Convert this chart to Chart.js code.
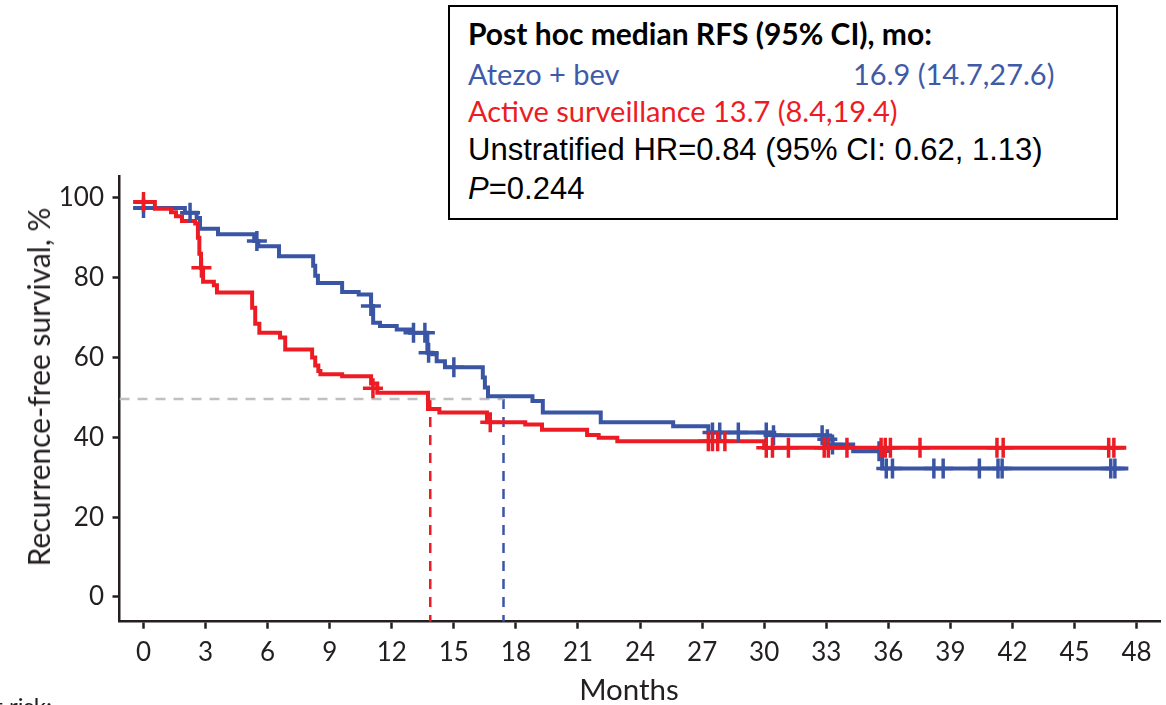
<!DOCTYPE html>
<html>
<head>
<meta charset="utf-8">
<script src="https://cdn.jsdelivr.net/npm/chart.js@4.4.1/dist/chart.umd.min.js"></script>
<style>
  html, body { margin: 0; padding: 0; background: #fff; }
  #wrap { position: relative; width: 1166px; height: 705px; overflow: hidden; }
  #chart { position: absolute; left: 0; top: 0; }
  .box {
    position: absolute; left: 448px; top: 5px; width: 670px; height: 215px;
    box-sizing: border-box; border: 2px solid #000; background: #fff;
  }
  .ln { position: absolute; white-space: nowrap; line-height: 1; }
  .cal { font-family: Lato, "Open Sans", sans-serif; font-size: 29px; }
  .ari { font-family: "Liberation Sans", Arial, sans-serif; font-size: 31px; color: #000; }
  .blue { color: #3f5aa8; }
  .red { color: #ed1c24; }
  .xtitle {
    position: absolute; left: 629px; top: 674px; transform: translateX(-50%);
    font-family: Lato, sans-serif; font-size: 29.5px; line-height: 1; color: #231f20;
  }
  .ytitle {
    position: absolute; left: 38px; top: 387px; white-space: nowrap;
    transform: translate(-50%, -50%) rotate(-90deg);
    font-family: Lato, sans-serif; font-size: 30px; line-height: 1; color: #231f20;
  }
  .risk {
    position: absolute; right: 1114px; top: 694px; white-space: nowrap;
    font-family: Lato, sans-serif; font-size: 24px; line-height: 1; color: #231f20;
  }
</style>
</head>
<body>
<div id="wrap">
  <canvas id="chart" width="1166" height="705"></canvas>
  <div class="box">
    <div class="ln cal" style="left:18px; top:11px; font-size:30px; font-weight:bold; color:#000;">Post hoc median RFS (95% CI), mo:</div>
    <div class="ln cal blue" style="left:18px; top:52px;">Atezo + bev</div>
    <div class="ln cal blue" style="left:403px; top:52px;">16.9 (14.7,27.6)</div>
    <div class="ln cal red" style="left:18px; top:89px;">Active surveillance</div>
    <div class="ln cal red" style="left:263px; top:89px;">13.7 (8.4,19.4)</div>
    <div class="ln ari" style="left:18px; top:127px;">Unstratified HR=0.84 (95% CI: 0.62, 1.13)</div>
    <div class="ln ari" style="left:18px; top:166px;"><i>P</i>=0.244</div>
  </div>
  <div class="ytitle">Recurrence-free survival, %</div>
  <div class="xtitle">Months</div>
  <div class="risk">No. at risk:</div>
</div>
<script>
// Kaplan-Meier RFS

const xTicks = [0, 3, 6, 9, 12, 15, 18, 21, 24, 27, 30, 33, 36, 39, 42, 45, 48];
const yTicks = [0, 20, 40, 60, 80, 100];

// Atezo + bev: step points (time in months, % recurrence-free after the step)
const atezoTimes = [-0.5, 2.0, 2.57, 2.73, 3.6, 5.35, 5.55, 6.55, 8.2, 8.3, 8.43, 9.6, 10.4,
  11.0, 11.1, 11.43, 12.24, 12.89, 13.72, 13.95, 14.17, 14.57, 16.4, 16.5, 16.65, 18.8, 19.3,
  22.1, 25.6, 27.3, 30.36, 33.0, 33.3, 34.3, 35.7, 47.6];
const atezoSurv = [97.5, 96.3, 95.0, 92.3, 90.9, 89.2, 87.9, 85.4, 83.0, 80.5, 78.7, 76.4, 75.8,
  72.9, 68.7, 67.9, 67.0, 66.2, 61.2, 60.8, 59.1, 57.6, 55.0, 52.5, 50.3, 49.1, 46.2,
  43.8, 42.8, 41.2, 40.5, 39.5, 38.2, 36.5, 32.2, 32.2];
const atezoCensorTimes = [0, 2.25, 5.48, 10.99, 13.05, 13.6, 13.78, 15.0, 27.5, 27.85, 28.75,
  30.1, 30.45, 32.8, 33.05, 33.3, 35.55, 35.9, 36.2, 38.2, 38.65, 40.4, 41.3, 41.5, 46.75, 46.95];
const atezoCensorSurv = [97.5, 96.3, 89.2, 72.9, 66.2, 66.2, 61.2, 57.6, 41.2, 41.2, 41.2,
  41.2, 40.5, 40.5, 39.5, 38.2, 36.5, 32.2, 32.2, 32.2, 32.2, 32.2, 32.2, 32.2, 32.2, 32.2];

// Active surveillance
const survTimes = [-0.5, 0.55, 1.33, 1.57, 1.86, 2.5, 2.63, 2.7, 2.78, 2.88, 3.4, 3.55, 5.25,
  5.4, 5.6, 6.6, 6.85, 8.15, 8.3, 8.45, 8.55, 9.6, 11.0, 11.3, 13.75, 14.3, 16.6, 18.45, 19.26,
  21.44, 22.0, 22.9, 30.0, 47.5];
const survSurv = [99.0, 97.3, 96.4, 95.4, 94.2, 93.6, 90.0, 86.0, 82.5, 79.0, 78.1, 76.3, 72.5,
  68.5, 66.2, 65.0, 62.0, 60.0, 58.0, 56.6, 55.8, 55.3, 53.5, 51.2, 47.1, 46.2, 43.8, 43.2, 41.9,
  40.6, 39.9, 39.0, 37.4, 37.4];
const survCensorTimes = [0, 2.8, 11.09, 16.76, 27.3, 27.5, 27.75, 28.1, 30.1, 30.4, 31.17,
  32.9, 33.1, 34.0, 35.65, 35.85, 36.1, 37.53, 41.25, 41.55, 46.65, 46.9];
const survCensorSurv = [99.0, 82.5, 52.3, 43.8, 39.0, 39.0, 39.0, 39.0, 37.4, 37.4, 37.4,
  37.4, 37.4, 37.4, 37.4, 37.4, 37.4, 37.4, 37.4, 37.4, 37.4, 37.4];

// median guide lines
const medianLevel = 49.6;
const atezoMedian = 17.4;
const survMedian = 13.86;

const BLUE = '#3b55a5';
const RED = '#ed1c24';
const INK = '#231f20';
const X_MIN = -1.16, X_MAX = 49.13, Y_MIN = -6.2, Y_MAX = 105.5;

function toPoints(xs, ys) {
  return xs.map((x, i) => ({ x, y: ys[i] }));
}

function curve(data, color) {
  return {
    type: 'line', data, stepped: true, borderColor: color, borderWidth: 4,
    pointRadius: 0, fill: false, order: 2,
  };
}

function censors(data, color) {
  return {
    type: 'scatter', data, showLine: false, pointStyle: 'cross', pointRadius: 10,
    pointBorderWidth: 3.5, pointBorderColor: color, pointBackgroundColor: color, order: 1,
  };
}

function guide(data, color) {
  return {
    type: 'line', data, borderColor: color, borderWidth: 2.5, borderDash: [10, 8],
    pointRadius: 0, fill: false, order: 5,
  };
}

const fontTick = { family: 'Lato', size: 26 };

new Chart(document.getElementById('chart'), {
  data: {
    datasets: [
      guide([{ x: X_MIN, y: medianLevel }, { x: atezoMedian, y: medianLevel }], '#c0c0c0'),
      guide([{ x: survMedian, y: medianLevel }, { x: survMedian, y: Y_MIN }], RED),
      guide([{ x: atezoMedian, y: medianLevel }, { x: atezoMedian, y: Y_MIN }], BLUE),
      curve(toPoints(survTimes, survSurv), RED),
      curve(toPoints(atezoTimes, atezoSurv), BLUE),
      censors(toPoints(survCensorTimes, survCensorSurv), RED),
      censors(toPoints(atezoCensorTimes, atezoCensorSurv), BLUE),
    ],
  },
  options: {
    responsive: false,
    animation: false,
    layout: { autoPadding: false, padding: { top: 176, right: 6, left: 0, bottom: 0 } },
    plugins: { legend: { display: false }, tooltip: { enabled: false } },
    scales: {
      x: {
        type: 'linear', min: X_MIN, max: X_MAX,
        afterBuildTicks: (s) => { s.ticks = xTicks.map((v) => ({ value: v })); },
        afterFit: (s) => { s.height = 83.3; },
        grid: { drawOnChartArea: false, tickLength: 7, tickWidth: 2.5, tickColor: INK },
        border: { display: true, color: INK, width: 2.5 },
        ticks: { font: fontTick, color: INK, padding: 8, maxRotation: 0, autoSkip: false },
      },
      y: {
        type: 'linear', min: Y_MIN, max: Y_MAX,
        afterBuildTicks: (s) => { s.ticks = yTicks.map((v) => ({ value: v })); },
        afterFit: (s) => { s.width = 119.5; },
        grid: { drawOnChartArea: false, tickLength: 7, tickWidth: 2.5, tickColor: INK },
        border: { display: true, color: INK, width: 2.5 },
        ticks: { font: fontTick, color: INK, padding: 8.5 },
      },
    },
  },
});
</script>
</body>
</html>
